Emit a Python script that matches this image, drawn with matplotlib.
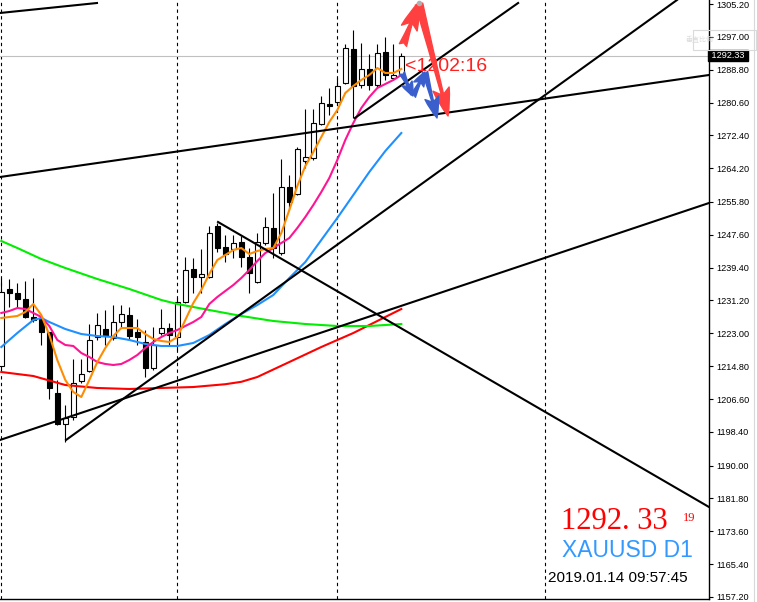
import numpy as np
import matplotlib.pyplot as plt
from matplotlib.patches import FancyArrowPatch, Rectangle

plt.rcParams['font.family'] = ['Liberation Sans', 'DejaVu Sans']

# daily candles, XAUUSD D1 (index 0 = leftmost visible bar)
opens = [1214.85, 1234.07, 1233.07, 1231.57, 1227.08, 1226.58, 1223.33, 1208.11, 1200.37, 1202.12,
         1211.10, 1213.60, 1222.09, 1224.08, 1221.84, 1225.83, 1227.58, 1223.33, 1220.84, 1214.35,
         1223.08, 1224.33, 1222.09, 1230.82, 1239.06, 1237.06, 1237.06, 1249.79, 1244.55, 1244.05,
         1245.80, 1242.05, 1235.81, 1245.55, 1249.29, 1243.05, 1259.53, 1257.78, 1266.01, 1266.76,
         1275.25, 1280.24, 1280.74, 1285.48, 1293.97, 1284.98, 1288.98, 1284.98, 1293.22, 1286.73,
         1287.48]
highs = [1236.81, 1236.56, 1235.56, 1236.06, 1236.81, 1226.83, 1223.33, 1211.36, 1205.11, 1216.59,
         1216.59, 1225.33, 1228.08, 1228.82, 1230.07, 1230.07, 1229.57, 1226.58, 1223.83, 1224.58,
         1229.07, 1225.58, 1231.82, 1242.05, 1241.80, 1244.05, 1249.79, 1250.54, 1247.54, 1247.54,
         1247.29, 1244.30, 1248.04, 1252.04, 1258.03, 1266.51, 1262.52, 1269.51, 1278.99, 1278.99,
         1282.24, 1284.24, 1286.73, 1295.22, 1298.71, 1295.47, 1292.72, 1295.22, 1296.96, 1295.22,
         1292.97]
lows = [1213.85, 1229.57, 1229.32, 1226.83, 1225.83, 1220.09, 1206.61, 1200.12, 1195.88, 1201.37,
        1210.61, 1213.35, 1221.34, 1220.09, 1221.34, 1224.58, 1221.34, 1220.09, 1212.10, 1213.85,
        1222.58, 1220.09, 1218.84, 1230.57, 1233.07, 1233.07, 1236.81, 1243.30, 1240.80, 1241.80,
        1239.56, 1233.07, 1235.56, 1245.05, 1241.80, 1242.55, 1253.78, 1257.53, 1264.27, 1266.26,
        1275.00, 1277.50, 1280.24, 1285.23, 1276.75, 1284.24, 1283.74, 1284.24, 1286.23, 1286.23,
        1287.23]
closes = [1233.32, 1233.07, 1231.57, 1227.08, 1226.33, 1223.33, 1209.36, 1200.37, 1201.87, 1210.61,
          1212.85, 1221.34, 1225.08, 1222.33, 1225.83, 1227.83, 1222.33, 1222.09, 1214.35, 1220.09,
          1224.33, 1222.58, 1230.82, 1238.81, 1237.06, 1237.81, 1248.04, 1244.30, 1242.80, 1245.55,
          1242.05, 1238.06, 1245.80, 1249.54, 1244.30, 1259.53, 1255.78, 1269.01, 1267.01, 1275.50,
          1280.49, 1279.74, 1284.74, 1294.22, 1284.74, 1288.98, 1284.98, 1292.97, 1287.48, 1287.48,
          1292.33]

# moving averages
ma_orange = [1226.83, 1227.08, 1227.33, 1228.32, 1230.32, 1227.58, 1222.58, 1216.34, 1211.35, 1208.36,
             1207.11, 1211.35, 1215.84, 1219.34, 1222.33, 1224.33, 1224.33, 1224.33, 1222.83, 1221.59,
             1221.09, 1220.84, 1222.08, 1226.33, 1230.57, 1233.82, 1237.81, 1241.30, 1242.55, 1243.80,
             1244.30, 1242.80, 1243.55, 1244.05, 1244.30, 1248.04, 1253.78, 1259.77, 1264.77, 1268.26,
             1272.00, 1275.75, 1278.74, 1282.99, 1284.73, 1286.23, 1287.48, 1289.23, 1287.98, 1287.98,
             1288.98]
ma_pink = [1228.08, 1228.57, 1229.32, 1229.07, 1228.08, 1227.08, 1224.83, 1221.34, 1220.09, 1219.84,
           1218.09, 1217.09, 1215.84, 1215.35, 1215.10, 1215.35, 1216.34, 1217.59, 1219.34, 1220.84,
           1222.08, 1223.08, 1223.83, 1224.83, 1225.83, 1227.08, 1230.32, 1232.07, 1233.57, 1235.06,
           1236.81, 1238.81, 1241.05, 1243.05, 1244.30, 1245.55, 1246.79, 1249.29, 1252.04, 1255.03,
           1258.28, 1261.77, 1266.26, 1271.26, 1275.50, 1279.24, 1281.99, 1284.23, 1285.23, 1286.23,
           1287.48]
blue_idx = [0, 2, 4, 5, 6, 8, 10, 12, 14, 16, 18, 20, 22, 24, 26, 28, 30, 32, 34, 36, 38, 40, 42, 44, 46, 48, 50]
ma_blue = [1219.59, 1223.08, 1226.33, 1226.83, 1225.83, 1224.08, 1222.83, 1222.33, 1222.08, 1221.34,
           1220.34, 1219.84, 1219.84, 1220.59, 1222.58, 1225.33, 1227.83, 1230.07, 1232.57, 1236.81,
           1240.80, 1246.30, 1251.79, 1257.53, 1263.27, 1268.51, 1273.00]
green_idx = [0, 2, 5, 8, 12, 16, 20, 22, 26, 30, 34, 38, 42, 46, 50]
ma_green = [1246.05, 1244.30, 1241.55, 1239.31, 1236.56, 1234.07, 1231.32, 1230.32, 1228.82, 1227.33,
            1226.08, 1225.33, 1224.83, 1224.83, 1225.33]
red_idx = [0, 4, 8, 12, 16, 20, 24, 28, 30, 32, 36, 40, 44, 48, 50]
ma_red = [1213.35, 1212.35, 1210.10, 1209.36, 1209.11, 1209.36, 1209.60, 1210.30, 1210.90, 1212.10,
          1215.84, 1219.59, 1223.08, 1227.08, 1229.07]

# hand drawn trend lines: (bar1, price1, bar2, price2)
trendlines = [
    (-0.16, 1302.96, 11.96, 1305.45),
    (-0.16, 1262.02, 88.46, 1287.48),
    (8.09, 1196.38, 84.46, 1306.20),
    (-0.16, 1196.38, 88.46, 1255.53),
    (27.09, 1250.79, 88.46, 1179.65),
    (44.20, 1276.75, 64.60, 1305.45),
]
red_arrows = [((50.21, 1294.97), (52.21, 1305.70)),
              ((52.21, 1305.20), (55.84, 1277.25))]
blue_arrows = [((50.09, 1287.98), (51.46, 1282.24)),
               ((51.46, 1282.24), (52.96, 1288.23)),
               ((52.96, 1288.23), (54.46, 1276.75))]
separators = [0, 22, 42, 68]
ytick_vals = [1305.20, 1297.00, 1288.80, 1280.60, 1272.40, 1264.20, 1255.80, 1247.60, 1239.40, 1231.20,
              1223.00, 1214.80, 1206.60, 1198.40, 1190.00, 1181.80, 1173.60, 1165.40, 1157.20]
bid = 1292.33

fig = plt.figure(figsize=(7.57, 6.02), dpi=100)
ax = fig.add_axes([0, 3 / 602, 709 / 757, 599 / 602])

o = np.array(opens); c = np.array(closes)
x = np.arange(len(o))
up = c >= o
ax.vlines(x, lows, highs, color='black', lw=0.8, zorder=3)
ax.bar(x, np.maximum(np.abs(c - o), 0.25), bottom=np.minimum(o, c), width=0.7,
       color=np.where(up, 'white', 'black'), edgecolor='black', linewidth=0.8, zorder=4)

ax.plot(red_idx, ma_red, color='#ff0000', lw=1.5, zorder=5)
ax.plot(green_idx, ma_green, color='#00ee00', lw=1.5, zorder=5)
ax.plot(blue_idx, ma_blue, color='#1e90ff', lw=1.5, zorder=5)
ax.plot(x, ma_pink, color='#ff1493', lw=1.5, zorder=5)
ax.plot(x, ma_orange, color='#ff8c00', lw=1.5, zorder=5)

for x1, y1, x2, y2 in trendlines:
    ax.plot([x1, x2], [y1, y2], color='black', lw=1.5, zorder=6)

for s in separators:
    ax.axvline(s, color='black', lw=0.8, linestyle=(0, (3, 3)), zorder=1)
ax.axhline(bid, color='#c0c0c0', lw=0.8, zorder=1)

for a, b in red_arrows:
    ax.add_patch(FancyArrowPatch(a, b, arrowstyle='fancy,head_length=2.0,head_width=1.2,tail_width=0.55',
                                 mutation_scale=10, color='#ff4040', shrinkA=0, shrinkB=0, zorder=8))
for k, (a, b) in enumerate(blue_arrows):
    hl, hw = (1.5, 1.0) if k == 2 else (1.0, 0.8)
    ax.add_patch(FancyArrowPatch(a, b, arrowstyle=f'fancy,head_length={hl},head_width={hw},tail_width=0.4',
                                 mutation_scale=10, color='#3a5fcd', shrinkA=0, shrinkB=0, zorder=8))
ax.plot([52.21], [1305.45], 'o', color='#b0b0b0', ms=3, zorder=9)
ax.text(50.46, 1289.48, '<1202:16', color='#ff2020', fontsize=14, va='center', ha='left', zorder=7)

ax.set_xlim(-0.1625, 88.46)
ax.set_ylim(1156.69, 1306.2)
ax.set_xticks([])
ax.yaxis.tick_right()
ax.set_yticks(ytick_vals)
ax.set_yticklabels([f'{v:.2f}' for v in ytick_vals])
ax.tick_params(axis='y', length=3, width=0.8, pad=2, labelsize=6.6, direction='out')
for side in ('top', 'left'):
    ax.spines[side].set_visible(False)
for side in ('right', 'bottom'):
    ax.spines[side].set_linewidth(1.0)

# current price box on the axis
ax.text(1.0, bid, ' 1292.33 ', transform=ax.get_yaxis_transform(), color='white', fontsize=6.6,
        va='center', ha='left', bbox=dict(boxstyle='square,pad=0.15', fc='black', ec='black'),
        clip_on=False, zorder=10)

# scale button top right (faint)
fig.patches.append(Rectangle((693 / 757, 1 - 50 / 602), 63 / 757, 20 / 602, transform=fig.transFigure,
                             fill=False, ec='#dadada', lw=0.8))
fig.text(700 / 757, 1 - 40 / 602, '垂直比例', color='#dcdcdc', fontsize=5, ha='center', va='center',
         family=['Noto Sans CJK SC', 'DejaVu Sans'])
fig.add_artist(plt.Line2D([754 / 757, 754 / 757], [0, 1], color='#d8d8d8', lw=0.8))

fig.text(561 / 757, 1 - 529 / 602, '1292. 33', color='#ff0000', fontsize=22, family='Liberation Serif',
         va='baseline', ha='left')
fig.text(683 / 757, 1 - 521 / 602, '19', color='#ff0000', fontsize=9, family='Liberation Serif',
         va='baseline', ha='left')
fig.text(562 / 757, 1 - 557 / 602, 'XAUUSD D1', color='#3399ff', fontsize=16.5, va='baseline', ha='left')
fig.text(548 / 757, 1 - 582 / 602, '2019.01.14 09:57:45', color='black', fontsize=11, va='baseline',
         ha='left')

fig.savefig('out.png', dpi=100)
